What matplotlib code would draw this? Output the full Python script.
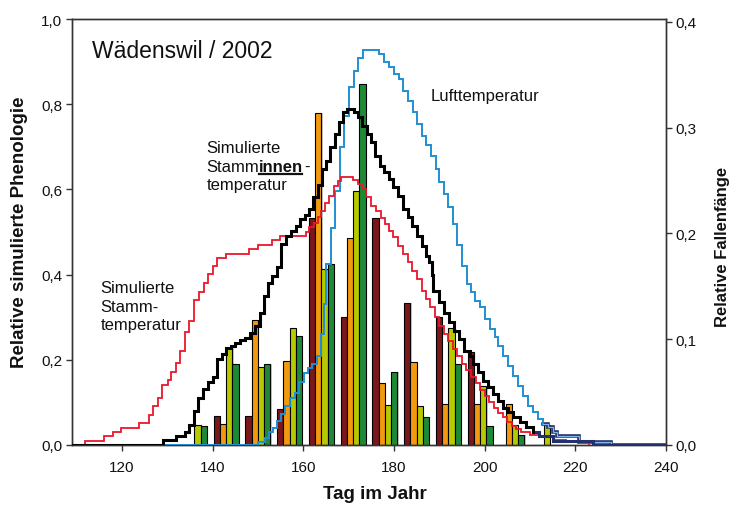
import matplotlib
matplotlib.use("Agg")
import matplotlib.pyplot as plt
import numpy as np

plt.rcParams['font.family'] = ['Liberation Sans', 'DejaVu Sans']

# weekly trap catches (right axis), one value per colour and week
week_days = [136, 143, 150, 157, 164, 171, 178, 185, 192, 199, 206, 213]
catch_darkred = [0.0, 0.027, 0.027, 0.034, 0.215, 0.121, 0.215, 0.134, 0.121, 0.088, 0.0, 0.0]
catch_orange = [0.0, 0.020, 0.118, 0.079, 0.314, 0.196, 0.059, 0.078, 0.039, 0.039, 0.039, 0.0]
catch_yellow = [0.019, 0.092, 0.074, 0.111, 0.166, 0.240, 0.0375, 0.037, 0.111, 0.056, 0.019, 0.019]
catch_green = [0.018, 0.077, 0.077, 0.103, 0.171, 0.341, 0.069, 0.026, 0.077, 0.018, 0.0095, 0.0]

# simulated phenology (left axis), step curves: (day, value)
stamm = [(111.85, 0.0), (111.85, 0.010), (116.1, 0.022), (118.0, 0.031), (119.9, 0.041),
         (123.8, 0.051), (125.9, 0.070), (126.9, 0.091), (127.9, 0.110), (128.9, 0.141),
         (130.1, 0.153), (130.9, 0.172), (131.9, 0.192), (132.9, 0.221), (134.0, 0.265),
         (134.8, 0.290), (135.9, 0.340), (137.0, 0.358), (138.1, 0.380), (139.0, 0.401),
         (140.0, 0.421), (140.9, 0.438), (142.9, 0.449), (148.0, 0.460), (150.0, 0.470),
         (153.0, 0.481), (154.8, 0.491), (160.7, 0.501), (161.3, 0.511), (162.3, 0.521),
         (163.2, 0.535), (164.0, 0.550), (164.7, 0.568), (165.7, 0.585), (166.7, 0.607),
         (167.6, 0.620), (168.4, 0.630), (170.9, 0.623), (172.0, 0.613), (173.0, 0.601),
         (173.9, 0.581), (175.0, 0.560), (176.1, 0.550), (177.2, 0.534), (178.1, 0.519),
         (179.0, 0.503), (179.9, 0.488), (180.9, 0.468), (182.0, 0.448), (183.1, 0.429),
         (184.0, 0.409), (185.1, 0.390), (186.1, 0.362), (187.1, 0.343), (188.0, 0.325),
         (189.0, 0.300), (190.0, 0.280), (191.0, 0.260), (192.0, 0.245), (193.0, 0.225),
         (194.0, 0.210), (195.0, 0.190), (196.0, 0.175), (197.0, 0.160), (198.0, 0.145),
         (199.0, 0.130), (200.0, 0.115), (201.0, 0.100), (202.0, 0.088), (203.0, 0.075),
         (204.0, 0.065), (205.0, 0.055), (206.0, 0.045), (207.0, 0.038), (208.0, 0.030),
         (210.0, 0.024), (212.0, 0.018), (215.0, 0.012), (218.0, 0.008), (223.0, 0.0)]

innen = [(109.0, 0.0), (129.0, 0.012), (131.9, 0.022), (133.9, 0.031), (134.9, 0.047),
         (135.9, 0.080), (136.8, 0.110), (137.9, 0.131), (138.9, 0.147), (140.0, 0.160),
         (140.9, 0.202), (142.0, 0.214), (142.9, 0.227), (144.0, 0.233), (145.0, 0.240),
         (146.0, 0.246), (147.1, 0.252), (148.2, 0.262), (149.3, 0.280), (150.4, 0.311),
         (151.3, 0.350), (152.2, 0.380), (153.1, 0.397), (154.2, 0.417), (155.2, 0.472),
         (156.3, 0.491), (157.4, 0.503), (158.3, 0.515), (159.2, 0.531), (160.3, 0.540),
         (161.3, 0.554), (162.1, 0.581), (163.2, 0.610), (164.1, 0.648), (165.1, 0.667),
         (166.0, 0.699), (166.9, 0.730), (167.8, 0.759), (168.7, 0.781), (169.6, 0.789),
         (171.1, 0.781), (172.0, 0.769), (173.0, 0.750), (174.0, 0.730), (175.0, 0.711),
         (175.9, 0.679), (177.0, 0.656), (177.9, 0.640), (178.9, 0.624), (179.9, 0.605),
         (180.9, 0.585), (182.0, 0.554), (183.1, 0.535), (184.0, 0.515), (185.1, 0.491),
         (186.1, 0.468), (187.1, 0.444), (187.8, 0.429), (188.3, 0.400), (188.6, 0.362),
         (190.0, 0.335), (191.1, 0.311), (192.2, 0.288), (193.3, 0.268), (194.4, 0.249),
         (195.5, 0.221), (196.7, 0.210), (197.4, 0.190), (198.5, 0.171), (199.6, 0.151),
         (200.7, 0.135), (201.8, 0.120), (202.9, 0.104), (204.0, 0.088), (205.1, 0.077),
         (206.2, 0.065), (207.7, 0.053), (209.1, 0.042), (210.6, 0.030)]

innen_tail = [(210.6, 0.030), (212.1, 0.020), (215.0, 0.010), (223.8, 0.0), (240.0, 0.0)]

luft = [(129.1, 0.0), (150.0, 0.008), (151.5, 0.016), (152.4, 0.030), (153.3, 0.041),
        (154.2, 0.057), (155.2, 0.073), (155.9, 0.091), (157.0, 0.111), (158.1, 0.122),
        (159.1, 0.147), (160.1, 0.169), (161.0, 0.180), (162.0, 0.190), (163.0, 0.210),
        (164.0, 0.260), (164.5, 0.331), (165.1, 0.425), (166.2, 0.510), (167.1, 0.597),
        (168.0, 0.699), (168.9, 0.773), (170.0, 0.840), (171.1, 0.879), (172.0, 0.908),
        (173.2, 0.928), (176.8, 0.918), (177.9, 0.898), (179.0, 0.887), (180.0, 0.871),
        (181.1, 0.859), (182.1, 0.832), (183.1, 0.808), (184.2, 0.781), (185.0, 0.754),
        (186.1, 0.726), (187.1, 0.704), (188.2, 0.679), (189.2, 0.648), (190.0, 0.618),
        (191.1, 0.589), (191.9, 0.558), (193.0, 0.519), (193.8, 0.470), (195.0, 0.420),
        (196.1, 0.378), (197.0, 0.358), (197.8, 0.339), (198.9, 0.323), (200.0, 0.296),
        (201.1, 0.272), (202.2, 0.253), (202.9, 0.233), (204.0, 0.210), (205.1, 0.186),
        (206.2, 0.163), (207.3, 0.139), (208.4, 0.116), (209.5, 0.092), (210.6, 0.077),
        (211.7, 0.061), (212.8, 0.049)]

luft_tail = [(212.8, 0.049), (213.9, 0.042), (215.0, 0.030), (216.0, 0.022),
             (220.9, 0.008), (227.9, 0.0), (240.0, 0.0)]

x_ticks = [120, 140, 160, 180, 200, 220, 240]
left_ticks = [0.0, 0.2, 0.4, 0.6, 0.8, 1.0]
right_ticks = [0.0, 0.1, 0.2, 0.3, 0.4]

bar_colors = ['#7a171b', '#f29a0f', '#b7c900', '#1d8a38']
RED = '#e8182c'
BLUE = '#1e8fd2'
NAVY = '#24306e'
AXC = '#333333'


def comma(v, nd=1):
    return f"{v:.{nd}f}".replace('.', ',')


fig = plt.figure(figsize=(7.3, 5.06), dpi=100)
ax = fig.add_axes([72 / 730, 60 / 506, 594 / 730, 426 / 506])
ax2 = ax.twinx()
ax.set_zorder(ax2.get_zorder() + 1)
ax.patch.set_visible(False)

# bars
bw = 1.38
wd = np.array(week_days, dtype=float)
for k, (vals, col) in enumerate(zip([catch_darkred, catch_orange, catch_yellow, catch_green],
                                    bar_colors)):
    xs = wd + (k - 1.5) * bw
    ax2.bar(xs + 0.28, vals, width=bw, color='#9a9a9a', alpha=0.55, linewidth=0, zorder=1)
    ax2.bar(xs, vals, width=bw, color=col, edgecolor='black', linewidth=0.8, zorder=2)


def steps(ax_, pts, **kw):
    d = [p[0] for p in pts]
    v = [p[1] for p in pts]
    ax_.plot(d, v, drawstyle='steps-post', **kw)


steps(ax, luft_tail, color=NAVY, lw=2.6, solid_joinstyle='miter', zorder=3)
steps(ax, luft_tail, color='#7fb6e6', lw=0.9, solid_joinstyle='miter', zorder=3.1)
steps(ax, luft, color=BLUE, lw=1.4, solid_joinstyle='miter', zorder=3)
steps(ax, stamm, color=RED, lw=1.3, solid_joinstyle='miter', zorder=4)
steps(ax, innen_tail, color=NAVY, lw=2.2, solid_joinstyle='miter', zorder=5)
steps(ax, innen, color='black', lw=2.2, solid_joinstyle='miter', zorder=5)

ax.set_xlim(109, 240)
ax.set_ylim(0, 1.0)
ax2.set_ylim(0, 0.4026)

ax.set_xticks(x_ticks)
ax.set_xticklabels([str(t) for t in x_ticks])
ax.set_yticks(left_ticks)
ax.set_yticklabels([comma(t) for t in left_ticks])
ax2.set_yticks(right_ticks)
ax2.set_yticklabels([comma(t) for t in right_ticks])

for a in (ax, ax2):
    a.tick_params(direction='out', length=4, width=1, colors=AXC, labelsize=11,
                  labelcolor='#111111')
    for s in a.spines.values():
        s.set_color(AXC)
        s.set_linewidth(1)
ax.tick_params(axis='x', pad=7)
ax.tick_params(axis='y', pad=3)
ax2.tick_params(axis='y', pad=3)

# texts
ax.text(113.4, 0.910, 'Wädenswil / 2002', fontsize=16.5, va='baseline', ha='left',
        color='#111111')
ax.text(188.2, 0.8106, 'Lufttemperatur', fontsize=12, va='baseline', color='#111111')
for i, line in enumerate(['Simulierte', 'Stamm-', 'temperatur']):
    ax.text(115.3, 0.359 - i * 0.0435, line, fontsize=12, va='baseline', color='#111111')

x0 = 138.67
ax.text(x0, 0.6885, 'Simulierte', fontsize=12, va='baseline', color='#111111')
ax.text(x0, 0.601, 'temperatur', fontsize=12, va='baseline', color='#111111')
t1 = ax.text(x0, 0.644, 'Stamm', fontsize=12, va='baseline', color='#111111')
fig.canvas.draw()
r = fig.canvas.get_renderer()
bb1 = t1.get_window_extent(r)
ybase_disp = ax.transData.transform((x0, 0.644))[1]
t2 = fig.text(bb1.x1 / fig.bbox.width, ybase_disp / fig.bbox.height, 'innen', fontsize=12,
              fontweight='bold', va='baseline', color='#111111')
fig.canvas.draw()
bb2 = t2.get_window_extent(r)
fig.text((bb2.x1 + 0.5) / fig.bbox.width, ybase_disp / fig.bbox.height, '-',
         fontsize=12, va='baseline', color='#111111')
uy = (ybase_disp - 3.5) / fig.bbox.height
fig.add_artist(plt.Line2D([bb2.x0 / fig.bbox.width, (bb2.x1 - 1) / fig.bbox.width], [uy, uy],
                          color='#111111', lw=1.6))

fig.text(20 / 730, 1 - 232 / 506, 'Relative simulierte Phenologie', rotation=90,
         fontsize=13.5, fontweight='bold', ha='center', va='center', color='#111111')
fig.text(722 / 730, 1 - 247 / 506, 'Relative Fallenfänge', rotation=90,
         fontsize=12, fontweight='bold', ha='center', va='center', color='#111111')
fig.text(375 / 730, 1 - 486 / 506, 'Tag im Jahr', fontsize=13.5, fontweight='bold',
         ha='center', va='top', color='#111111')

fig.savefig('out.png', dpi=100)
